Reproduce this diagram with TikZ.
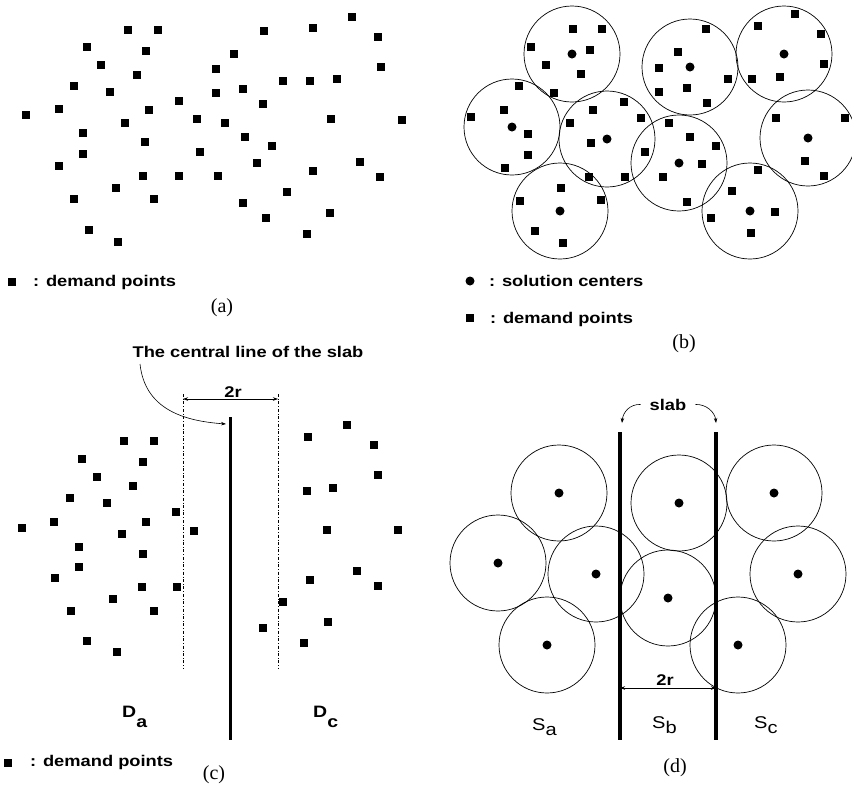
\documentclass[tikz,border=0pt]{standalone}
\usepackage{fontspec}
\setmainfont{Liberation Serif}
\setsansfont{Liberation Sans}[FakeStretch=1.18]
\usetikzlibrary{arrows.meta}

\tikzset{
  dpoint/.style={rectangle, fill=black, minimum size=7.5pt, inner sep=0pt},
  centre/.style={circle, fill=black, minimum size=9pt, inner sep=0pt},
  zone/.style={circle, draw=black, line width=0.7pt, minimum size=96pt, inner sep=0pt},
  lbl/.style={font=\sffamily\bfseries\fontsize{15.5}{18}\selectfont, inner sep=0pt},
  sublbl/.style={font=\sffamily\fontsize{17}{19}\selectfont, inner sep=0pt},
  capt/.style={font=\rmfamily\fontsize{20}{22}\selectfont, inner sep=0pt},
  slabline/.style={line width=3pt},
  guide/.style={dash dot, line width=0.5pt},
  arr/.style={-{Stealth[length=5pt,width=3.5pt]}, line width=0.6pt},
  twoway/.style={{Stealth[length=5pt,width=3.5pt]}-{Stealth[length=5pt,width=3.5pt]}, line width=0.6pt},
}

\begin{document}
\begin{tikzpicture}[x=1pt, y=-1pt]
                \useasboundingbox (0,0) rectangle (852,793);

                % (a)
                \foreach \x/\y [count=\n] in {128/30, 158/30, 264/31, 313/28, 352/17, 378/37, 87/47, 146/51, 234/54, 101/65, 137/75, 216/69, 381/67, 283/81, 310/81, 337/79, 74/86, 110/92, 216/93, 243/89, 179/101, 263/104, 26/115, 59/109, 149/110, 197/119, 225/123, 125/123, 331/119, 402/120, 83/133, 145/142, 245/137, 272/146, 83/154, 200/152, 59/166, 257/163, 360/162, 313/171, 380/177, 143/176, 179/176, 218/176, 116/188, 287/192, 74/199, 154/199, 243/203, 330/213, 266/218, 89/230, 307/234, 118/242}
                    \node[dpoint] (pa\n) at (\x,\y) {};
                \node[dpoint] (keya) at (12,282) {};
                \node[lbl, anchor=base west] (keytexta) at (33,286) {: demand points};
                \node[capt] (capa) at (222,308) {(a)};

                % (b)
                \foreach \x/\y [count=\n] in {572/54, 512/127, 607/139, 560/211, 690/67, 679/163, 784/54, 808/138, 750/211}
                    {\node[zone] (bz\n) at (\x,\y) {};
                     \node[centre] (bc\n) at (bz\n) {};}
                \foreach \x/\y [count=\n] in {573/29, 602/29, 531/47, 590/50, 546/65, 581/74, 519/86, 554/93, 504/110, 471/117, 528/134, 528/155, 505/168, 593/110, 624/102, 641/118, 570/123, 591/143, 589/177, 625/177, 669/123, 690/137, 716/146, 645/152, 702/164, 663/177, 687/202, 706/29, 678/52, 659/68, 728/79, 659/92, 687/88, 707/103, 795/14, 758/26, 821/34, 824/64, 780/77, 752/79, 776/118, 845/118, 805/161, 824/176, 758/170, 732/191, 775/212, 711/218, 751/233, 561/188, 520/201, 601/200, 535/231, 563/243}
                    \node[dpoint] (pb\n) at (\x,\y) {};
                \node[centre] (keyb1) at (470,281) {};
                \node[lbl, anchor=base west] (keytextb1) at (489,286) {: solution centers};
                \node[dpoint] (keyb2) at (470,318) {};
                \node[lbl, anchor=base west] (keytextb2) at (490,323) {: demand points};
                \node[capt] (capb) at (684,344) {(b)};

                % (c)
                \foreach \x/\y [count=\n] in {124/441, 154/441, 82/459, 143/462, 97/477, 133/486, 70/498, 107/503, 176/512, 22/528, 54/522, 146/522, 122/534, 194/531, 79/547, 143/554, 79/567, 55/578, 142/587, 177/587, 113/599, 71/611, 154/611, 87/641, 117/652, 347/425, 308/437, 374/445, 378/475, 307/491, 333/488, 327/530, 398/530, 357/571, 310/580, 378/586, 283/602, 263/628, 328/622, 304/643}
                    \node[dpoint] (pc\n) at (\x,\y) {};
                \coordinate (ctop) at (230,417);
                \coordinate (cbot) at (230,740);
                \coordinate (gltop) at (183,394);
                \coordinate (glbot) at (183,668);
                \coordinate (grtop) at (278,394);
                \coordinate (grbot) at (278,668);
                \coordinate (wl) at (183,399);
                \coordinate (wr) at (278,399);
                \coordinate (cstart) at (140,364);
                \coordinate (cend) at (226,424);
                \draw[slabline] (ctop) -- (cbot);
                \draw[guide] (gltop) -- (glbot);
                \draw[guide] (grtop) -- (grbot);
                \draw[twoway] (wl) -- (wr);
                \draw[arr] (cstart) .. controls (145,410) and (185,421) .. (cend);
                \node[lbl, anchor=base] (ctitle) at (248,357) {The central line of the slab};
                \node[lbl, anchor=base] (cwidth) at (233,397) {2r};
                \node[lbl, font=\sffamily\bfseries\fontsize{16.5}{18}\selectfont, anchor=base west] (da) at (122,717) {D\raisebox{-10pt}{a}};
                \node[lbl, font=\sffamily\bfseries\fontsize{16.5}{18}\selectfont, anchor=base west] (dc) at (313,717) {D\raisebox{-10pt}{c}};
                \node[dpoint] (keyc) at (8,763) {};
                \node[lbl, anchor=base west] (keytextc) at (30,766) {: demand points};
                \node[capt] (capc) at (214,775) {(c)};

                % (d)
                \foreach \x/\y [count=\n] in {559/493, 498/563, 596/574, 547/645, 679/503, 668/598, 774/493, 798/574, 738/645}
                    {\node[zone] (dz\n) at (\x,\y) {};
                     \node[centre] (dc\n) at (dz\n) {};}
                \coordinate (sltop) at (620,432);
                \coordinate (slbot) at (620,740);
                \coordinate (srtop) at (716,432);
                \coordinate (srbot) at (716,740);
                \coordinate (dwl) at (620,688);
                \coordinate (dwr) at (716,688);
                \coordinate (tipl) at (622,423);
                \coordinate (tipr) at (716,423);
                \draw[slabline, line width=3.5pt] (sltop) -- (slbot);
                \draw[slabline, line width=3.5pt] (srtop) -- (srbot);
                \draw[twoway] (dwl) -- (dwr);
                \node[lbl, anchor=base, inner xsep=9pt] (slab) at (668,410) {slab};
                \draw[arr] (slab.west) .. controls (630,404) and (623,412) .. (tipl);
                \draw[arr] (slab.east) .. controls (706,404) and (715,412) .. (tipr);
                \node[lbl, anchor=base] (dwidth) at (665,685) {2r};
                \node[sublbl, anchor=base west] (sa) at (532,730) {S\raisebox{-5pt}{a}};
                \node[sublbl, anchor=base west] (sb) at (652,728) {S\raisebox{-5pt}{b}};
                \node[sublbl, anchor=base west] (sc) at (754,728) {S\raisebox{-5pt}{c}};
                \node[capt] (capd) at (675,768) {(d)};

            \end{tikzpicture}
\end{document}
